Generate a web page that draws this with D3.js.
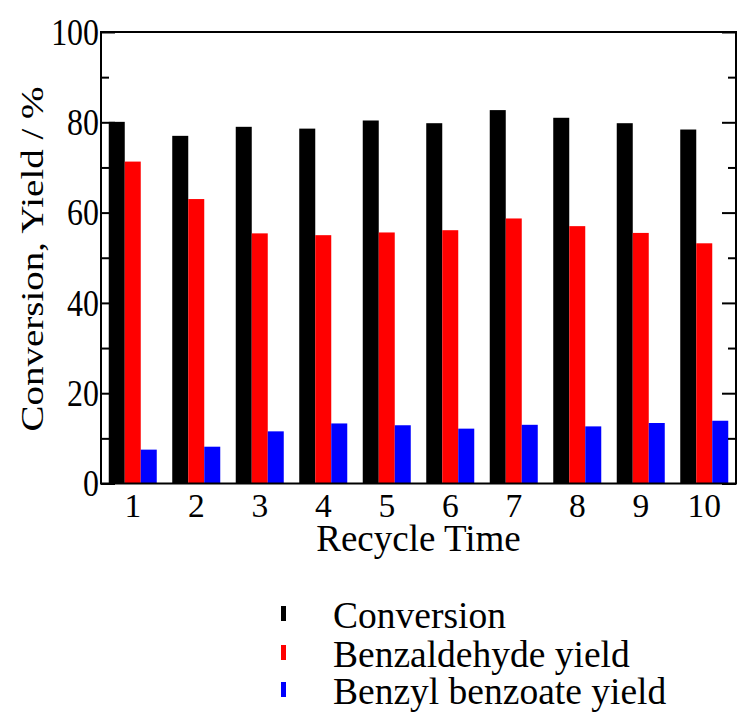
<!DOCTYPE html>
<html>
<head>
<meta charset="utf-8">
<script src="https://cdn.jsdelivr.net/npm/d3@7"></script>
<style>
  html, body { margin: 0; padding: 0; background: #fff; }
  svg { display: block; font-family: "Liberation Serif", "Times New Roman", serif; }
</style>
</head>
<body>
<div id="chart"></div>
<script>
// ---- data ----
const categories = ["1","2","3","4","5","6","7","8","9","10"];
const seriesNames = ["Conversion", "Benzaldehyde yield", "Benzyl benzoate yield"];
const seriesColors = ["#000000", "#ff0000", "#0000ff"];
const conversion = [80.1, 77.0, 79.0, 78.6, 80.4, 79.8, 82.7, 81.0, 79.8, 78.4];
const benzaldehyde = [71.3, 63.0, 55.4, 55.0, 55.6, 56.1, 58.7, 57.0, 55.5, 53.2];
const benzylBenzoate = [7.5, 8.15, 11.55, 13.3, 12.9, 12.15, 13.0, 12.65, 13.4, 13.9];
const yTicks = [0, 20, 40, 60, 80, 100];
const yMinorTicks = [10, 30, 50, 70, 90];
const xTitle = "Recycle Time";
const yTitle = "Conversion, Yield / %";

const seriesValues = [conversion, benzaldehyde, benzylBenzoate];

const W = 739, H = 715;
const plot = { left: 101, right: 736, top: 32, bottom: 483.5 };

const svg = d3.select("#chart").append("svg").attr("width", W).attr("height", H);

const x = d3.scaleBand().domain(categories).range([plot.left, plot.right])
  .paddingInner(0.244).paddingOuter(0.122);
const xs = d3.scaleBand().domain(seriesNames).range([0, x.bandwidth()]).padding(0);
const y = d3.scaleLinear().domain([0, 100]).range([plot.bottom, plot.top]);

// bars
seriesNames.forEach((name, si) => {
  svg.append("g").selectAll("rect")
    .data(categories.map((c, i) => ({ c, v: seriesValues[si][i] })))
    .join("rect")
    .attr("x", d => x(d.c) + xs(name))
    .attr("y", d => y(d.v))
    .attr("width", xs.bandwidth())
    .attr("height", d => y(0) - y(d.v))
    .attr("fill", seriesColors[si]);
});

// frame
svg.append("rect")
  .attr("x", plot.left).attr("y", plot.top)
  .attr("width", plot.right - plot.left).attr("height", plot.bottom - plot.top)
  .attr("fill", "none").attr("stroke", "#000").attr("stroke-width", 2);

// left axis (ticks inward, labels outside)
const yAxisL = d3.axisLeft(y).tickValues(yTicks).tickSize(-14).tickPadding(4).tickFormat(d3.format("d"));
const gL = svg.append("g").attr("transform", `translate(${plot.left},0)`).call(yAxisL);
gL.select(".domain").remove();
gL.selectAll(".tick line").attr("stroke-width", 2);
gL.selectAll(".tick text").attr("font-size", 38).attr("fill", "#000")
  .attr("font-family", '"Liberation Serif", "Times New Roman", serif')
  .attr("x", 0).attr("dy", "0.32em")
  .attr("transform", "translate(-2,0) scale(0.84,1)");
const gLm = svg.append("g").attr("transform", `translate(${plot.left},0)`)
  .call(d3.axisLeft(y).tickValues(yMinorTicks).tickSize(-8).tickFormat(""));
gLm.select(".domain").remove();
gLm.selectAll(".tick line").attr("stroke-width", 2);

// right axis
const gR = svg.append("g").attr("transform", `translate(${plot.right},0)`)
  .call(d3.axisRight(y).tickValues(yTicks).tickSize(-14).tickFormat(""));
gR.select(".domain").remove();
gR.selectAll(".tick line").attr("stroke-width", 2);
const gRm = svg.append("g").attr("transform", `translate(${plot.right},0)`)
  .call(d3.axisRight(y).tickValues(yMinorTicks).tickSize(-8).tickFormat(""));
gRm.select(".domain").remove();
gRm.selectAll(".tick line").attr("stroke-width", 2);

// bottom axis labels
const gB = svg.append("g").attr("transform", `translate(0,${plot.bottom})`)
  .call(d3.axisBottom(x).tickSize(0).tickPadding(0));
gB.select(".domain").remove();
gB.selectAll(".tick text").attr("font-size", 33.5).attr("fill", "#000")
  .attr("font-family", '"Liberation Serif", "Times New Roman", serif').attr("y", 33.5).attr("dy", 0);

// axis titles
svg.append("text").attr("x", (plot.left + plot.right) / 2).attr("y", 551)
  .attr("text-anchor", "middle").attr("font-size", 37).text(xTitle);
svg.append("text").attr("transform", `translate(43,259) rotate(-90) scale(1.2,1)`)
  .attr("text-anchor", "middle").attr("font-size", 32.5).text(yTitle);

// legend
const legendY = [628, 667, 704];
const lg = svg.append("g");
seriesNames.forEach((name, i) => {
  lg.append("rect").attr("x", 281).attr("y", legendY[i] - 22).attr("width", 5).attr("height", 15)
    .attr("fill", seriesColors[i]);
  lg.append("text").attr("x", 333).attr("y", legendY[i]).attr("font-size", 37.5).text(name);
});
</script>
</body>
</html>
